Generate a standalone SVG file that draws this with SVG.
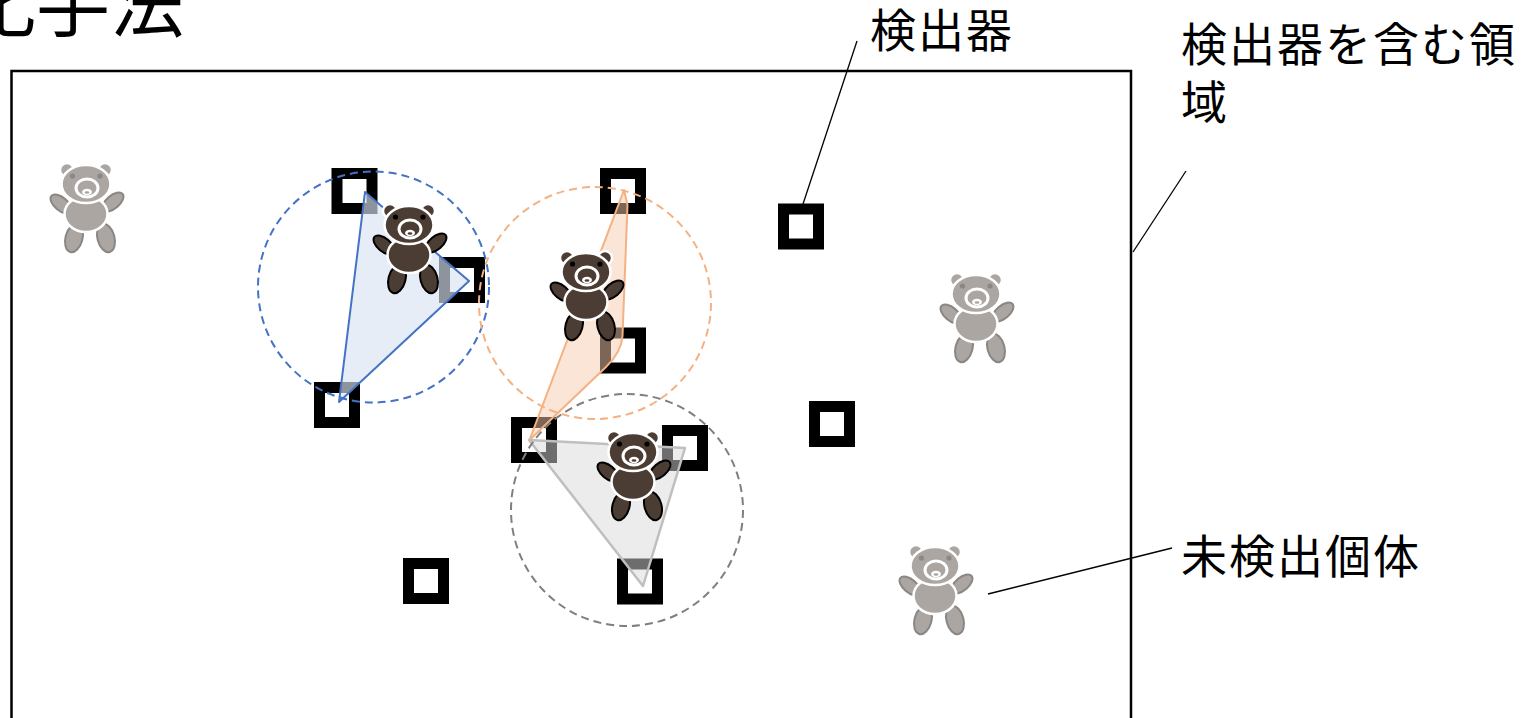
<svg xmlns="http://www.w3.org/2000/svg" xmlns:xlink="http://www.w3.org/1999/xlink" width="1531" height="718" viewBox="0 0 1531 718">
  <style>
    .label { font-family: "Noto Sans CJK JP", "Noto Sans", sans-serif; fill: #000; }
    .leader { stroke: #000; stroke-width: 1.3; fill: none; }
    .det { fill: none; stroke: #000; stroke-width: 11; }
    .range { fill: none; stroke-width: 2; stroke-dasharray: 8 5; }
    .fur { fill: var(--fur); }
    .limb { fill: var(--fur); stroke: var(--limb); stroke-width: 2; }
    .eye { fill: var(--eye); }
    .edge { stroke: #fff; stroke-width: 2.5; }
    .dk { --fur: #4b3d33; --limb: #000; --eye: #000; }
    .gy { --fur: #aba6a2; --limb: #8a8683; --eye: #8c8784; }
  </style>
  <defs>
    <!-- teddy bear icon, origin at centre of the head -->
    <g id="bear">
      <ellipse class="limb" cx="-25" cy="20" rx="12.5" ry="6.5" transform="rotate(40 -25 20)"/>
      <ellipse class="limb" cx="27" cy="18" rx="12.5" ry="6.5" transform="rotate(-40 27 18)"/>
      <ellipse class="limb" cx="-12" cy="54" rx="8.5" ry="14.5" transform="rotate(15 -12 54)"/>
      <ellipse class="limb" cx="20" cy="54" rx="8.5" ry="14.5" transform="rotate(-15 20 54)"/>
      <ellipse class="fur edge" cx="0" cy="30" rx="21.5" ry="18"/>
      <circle class="fur edge" cx="-19" cy="-14" r="7"/>
      <circle class="fur edge" cx="19" cy="-14" r="7"/>
      <ellipse class="fur edge" cx="0" cy="0" rx="24.5" ry="19"/>
      <circle class="eye" cx="-13.5" cy="-8" r="2.6"/>
      <circle class="eye" cx="14" cy="-8" r="2.6"/>
      <ellipse class="fur" cx="1" cy="4" rx="11" ry="9" stroke="#fff" stroke-width="3"/>
      <ellipse cx="1" cy="8" rx="5" ry="3.2" fill="#fff"/>
      <ellipse class="fur" cx="1" cy="8.5" rx="2.4" ry="1.2"/>
    </g>
  </defs>

  <rect width="1531" height="718" fill="#fff"/>

  <!-- title, running off the left edge -->
  <text class="label" x="-38" y="31" font-size="74">化手法</text>

  <!-- survey area containing the detectors -->
  <g id="area">
    <rect x="11.5" y="71" width="1119.5" height="700" fill="none" stroke="#000" stroke-width="2.5"/>
  </g>

  <!-- detectors -->
  <g id="detectors">
    <rect id="det1" class="det" x="337" y="173.5" width="35" height="35"/>
    <rect id="det2" class="det" x="444.5" y="262.5" width="35" height="35"/>
    <rect id="det3" class="det" x="319.5" y="387.5" width="35" height="35"/>
    <rect id="det4" class="det" x="605.5" y="173.5" width="35" height="35"/>
    <rect id="det5" class="det" x="605.5" y="333" width="35" height="35"/>
    <rect id="det6" class="det" x="516.5" y="422.5" width="35" height="35"/>
    <rect id="det7" class="det" x="667.5" y="430.5" width="35" height="35"/>
    <rect id="det8" class="det" x="622.5" y="564" width="35" height="35"/>
    <rect id="det9" class="det" x="783.5" y="209" width="35" height="35"/>
    <rect id="det10" class="det" x="814.5" y="406.5" width="35" height="35"/>
    <rect id="det11" class="det" x="408.5" y="563.5" width="35" height="35"/>
  </g>

  <!-- detection groups: detectors that recorded the same individual -->
  <g id="group-blue">
    <polygon points="365,192 469,281 339,402" fill="#dae3f3" fill-opacity="0.65" stroke="#4472c4" stroke-width="2" stroke-linejoin="round"/>
  </g>
  <g id="group-orange">
    <path d="M624,190 L627.5,205 L622.5,336 Q621.5,352 606,367 L529.5,440 Z" fill="#f8cbad" fill-opacity="0.5" stroke="#f4b183" stroke-width="2" stroke-linejoin="round"/>
  </g>
  <g id="group-gray">
    <polygon points="529,440 685,448 643,586" fill="#d9d9d9" fill-opacity="0.5" stroke="#bfbfbf" stroke-width="2.5" stroke-linejoin="round"/>
  </g>

  <!-- activity ranges -->
  <g id="ranges">
    <circle class="range" cx="373.5" cy="287" r="115.5" stroke="#4472c4"/>
    <circle class="range" cx="595" cy="303" r="116" stroke="#f4b183"/>
    <circle class="range" cx="627" cy="510" r="116" stroke="#7f7f7f"/>
  </g>

  <!-- detected individuals -->
  <g id="bear1" class="dk"><use xlink:href="#bear" x="409" y="225"/></g>
  <g id="bear2" class="dk"><use xlink:href="#bear" x="586" y="272"/></g>
  <g id="bear3" class="dk"><use xlink:href="#bear" x="633" y="452"/></g>

  <!-- undetected individuals -->
  <g id="bear4" class="gy"><use xlink:href="#bear" x="86" y="184"/></g>
  <g id="bear5" class="gy"><use xlink:href="#bear" x="976" y="294"/></g>
  <g id="bear6" class="gy"><use xlink:href="#bear" x="935" y="566"/></g>

  <!-- callout leaders -->
  <g id="connectors">
    <line class="leader" x1="857" y1="41" x2="803" y2="204"/>
    <line class="leader" x1="1186" y1="171" x2="1133" y2="252"/>
    <line class="leader" x1="1172" y1="548" x2="988" y2="594"/>
  </g>

  <!-- callout labels -->
  <g id="label-detector">
    <text class="label" x="870" y="47" font-size="46" letter-spacing="2">検出器</text>
  </g>
  <g id="label-area">
    <text class="label" x="1181" y="61" font-size="46" letter-spacing="2">検出器を含む領</text>
    <text class="label" x="1181" y="119" font-size="46" letter-spacing="2">域</text>
  </g>
  <g id="label-undetected">
    <text class="label" x="1181" y="573" font-size="46" letter-spacing="2">未検出個体</text>
  </g>
</svg>
